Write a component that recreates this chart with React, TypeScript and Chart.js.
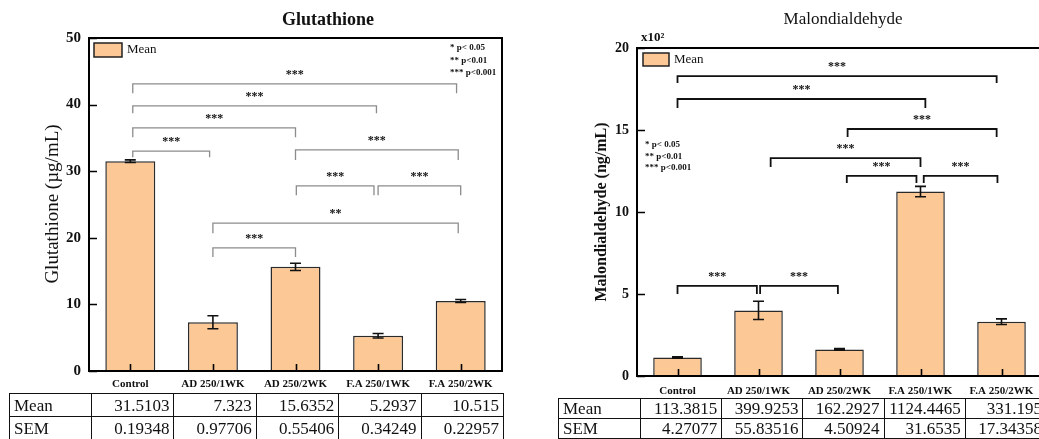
import React, { useEffect, useRef } from "react";
import { Chart, registerables } from "chart.js";
Chart.register(...registerables);

const FONT = "'Times New Roman', 'Liberation Serif', 'DejaVu Serif', serif";
const BAR_FILL = "#FCC895";

const categories = ["Control", "AD 250/1WK", "AD 250/2WK", "F.A 250/1WK", "F.A 250/2WK"];

// Glutathione
const gshMean = [31.5103, 7.323, 15.6352, 5.2937, 10.515];
const gshSem = [0.19348, 0.97706, 0.55406, 0.34249, 0.22957];
const gshTicks = [0, 10, 20, 30, 40, 50];
const gshTickLabels = ["0", "10", "20", "30", "40", "50"];
// [from index, to index, top value, left end value, right end value, label]
const gshBrackets: [number, number, number, number, number, string][] = [
  [0.03, 3.95, 43.1, 41.7, 41.7, "***"],
  [0.03, 2.98, 39.8, 38.7, 38.7, "***"],
  [0.03, 2.0, 36.5, 35.1, 35.1, "***"],
  [0.03, 0.96, 33.0, 32.1, 32.1, "***"],
  [2.0, 3.97, 33.2, 31.7, 31.7, "***"],
  [2.01, 2.95, 27.8, 26.4, 26.4, "***"],
  [3.0, 4.0, 27.8, 26.4, 26.4, "***"],
  [1.0, 3.97, 22.2, 20.7, 20.7, "**"],
  [1.0, 2.0, 18.5, 17.1, 17.1, "***"],
];

// Malondialdehyde
const mdaMean = [113.3815, 399.9253, 162.2927, 1124.4465, 331.195];
const mdaSem = [4.27077, 55.83516, 4.50924, 31.6535, 17.34358];
const mdaTicks = [0, 500, 1000, 1500, 2000];
const mdaTickLabels = ["0", "5", "10", "15", "20"];
const mdaBrackets: [number, number, number, number, number, string][] = [
  [0.0, 3.94, 1829, 1787, 1787, "***"],
  [0.0, 3.06, 1689, 1634, 1634, "***"],
  [2.1, 3.94, 1506, 1457, 1457, "***"],
  [1.15, 3.0, 1329, 1274, 1274, "***"],
  [2.09, 2.95, 1220, 1177, 1177, "***"],
  [3.04, 3.95, 1220, 1177, 1177, "***"],
  [0.0, 0.98, 549, 500, 500, "***"],
  [1.02, 1.98, 549, 500, 500, "***"],
];

const pLegend = ["* p< 0.05", "** p<0.01", "*** p<0.001"];
const tableRows = ["Mean", "SEM"];

type Cfg = {
  title: string;
  titleFont: string;
  titleX: number;
  titleY: number;
  yTitle: string;
  yTitleFont: string;
  yTitleX: number;
  yTitleY: number;
  means: number[];
  sems: number[];
  brackets: [number, number, number, number, number, string][];
  bracketColor: string;
  bracketWidth: number;
  legendBox: [number, number, number, number];
  legendText: [number, number];
  pX: number;
  pY: number[];
  extra?: (ctx: CanvasRenderingContext2D) => void;
};

function decor(cfg: Cfg) {
  return {
    id: "decor",
    afterDraw(chart: any) {
      const { ctx, chartArea: a, scales } = chart;
      const xs = scales.x;
      const ys = scales.y;
      ctx.save();
      // frame
      ctx.strokeStyle = "#000";
      ctx.lineWidth = 2;
      ctx.strokeRect(a.left, a.top, a.right - a.left, a.bottom - a.top);
      // inward ticks
      ctx.lineWidth = 1.6;
      ctx.beginPath();
      ys.ticks.forEach((_t: any, i: number) => {
        const py = Math.round(ys.getPixelForTick(i)) + 0.5;
        ctx.moveTo(a.left, py);
        ctx.lineTo(a.left + 8, py);
      });
      cfg.means.forEach((_m, i) => {
        const px = Math.round(xs.getPixelForValue(i)) + 0.5;
        ctx.moveTo(px, a.bottom);
        ctx.lineTo(px, a.bottom - 7);
      });
      ctx.stroke();
      // error bars
      ctx.lineWidth = 1.6;
      ctx.strokeStyle = "#111";
      cfg.means.forEach((m, i) => {
        const px = xs.getPixelForValue(i);
        const yt = ys.getPixelForValue(m + cfg.sems[i]);
        const yb = ys.getPixelForValue(m - cfg.sems[i]);
        ctx.beginPath();
        ctx.moveTo(px, yt);
        ctx.lineTo(px, yb);
        ctx.moveTo(px - 5.5, yt);
        ctx.lineTo(px + 5.5, yt);
        ctx.moveTo(px - 5.5, yb);
        ctx.lineTo(px + 5.5, yb);
        ctx.stroke();
      });
      // brackets
      ctx.strokeStyle = cfg.bracketColor;
      ctx.lineWidth = cfg.bracketWidth;
      ctx.fillStyle = "#111";
      ctx.font = `bold 12px ${FONT}`;
      ctx.textAlign = "center";
      ctx.textBaseline = "alphabetic";
      cfg.brackets.forEach(([f, t, top, le, re, label]) => {
        const x1 = xs.getPixelForValue(f);
        const x2 = xs.getPixelForValue(t);
        const yTop = ys.getPixelForValue(top);
        ctx.beginPath();
        ctx.moveTo(x1, ys.getPixelForValue(le));
        ctx.lineTo(x1, yTop);
        ctx.lineTo(x2, yTop);
        ctx.lineTo(x2, ys.getPixelForValue(re));
        ctx.stroke();
        ctx.fillText(label, (x1 + x2) / 2, yTop - 6);
      });
      // legend
      const [lx, ly, lw, lh] = cfg.legendBox;
      ctx.fillStyle = BAR_FILL;
      ctx.fillRect(lx, ly, lw, lh);
      ctx.strokeStyle = "#222";
      ctx.lineWidth = 1.5;
      ctx.strokeRect(lx, ly, lw, lh);
      ctx.fillStyle = "#111";
      ctx.font = `13px ${FONT}`;
      ctx.textAlign = "left";
      ctx.textBaseline = "middle";
      ctx.fillText("Mean", cfg.legendText[0], cfg.legendText[1]);
      // p legend
      ctx.font = `bold 9px ${FONT}`;
      pLegend.forEach((s, i) => ctx.fillText(s, cfg.pX, cfg.pY[i]));
      // title
      ctx.font = cfg.titleFont;
      ctx.textAlign = "center";
      ctx.fillText(cfg.title, cfg.titleX, cfg.titleY);
      // y title
      ctx.save();
      ctx.translate(cfg.yTitleX, cfg.yTitleY);
      ctx.rotate(-Math.PI / 2);
      ctx.font = cfg.yTitleFont;
      ctx.fillText(cfg.yTitle, 0, 0);
      ctx.restore();
      if (cfg.extra) cfg.extra(ctx);
      ctx.restore();
    },
  };
}

function BarChart(props: {
  width: number;
  height: number;
  means: number[];
  max: number;
  ticks: number[];
  tickLabels: string[];
  tickSize: number;
  yWidth: number;
  xHeight: number;
  padTop: number;
  padRight: number;
  xPad: number;
  barPct: number;
  cfg: Cfg;
}) {
  const ref = useRef<HTMLCanvasElement>(null);
  useEffect(() => {
    if (!ref.current) return;
    const p = props;
    const chart = new Chart(ref.current, {
      type: "bar",
      data: {
        labels: categories,
        datasets: [
          {
            label: "Mean",
            data: p.means,
            backgroundColor: BAR_FILL,
            borderColor: "#2a2a2a",
            borderWidth: 1.5,
            categoryPercentage: 1,
            barPercentage: p.barPct,
          },
        ],
      },
      options: {
        responsive: false,
        animation: false,
        devicePixelRatio: 1,
        layout: { padding: { top: p.padTop, right: p.padRight, left: 0, bottom: 0 } },
        plugins: { legend: { display: false }, tooltip: { enabled: false }, title: { display: false } },
        scales: {
          x: {
            grid: { display: false, drawTicks: false },
            border: { display: false },
            ticks: {
              color: "#111",
              font: { family: FONT, size: 11, weight: "bold" },
              maxRotation: 0,
              minRotation: 0,
              autoSkip: false,
              padding: p.xPad,
            },
            afterFit: (s: any) => {
              s.height = p.xHeight;
            },
          },
          y: {
            min: 0,
            max: p.max,
            grid: { display: false, drawTicks: false },
            border: { display: false },
            afterBuildTicks: (s: any) => {
              s.ticks = p.ticks.map((v) => ({ value: v }));
            },
            ticks: {
              color: "#111",
              font: { family: FONT, size: p.tickSize, weight: "bold" },
              padding: 8,
              callback: (v: any) => p.tickLabels[p.ticks.indexOf(Number(v))] ?? "",
            },
            afterFit: (s: any) => {
              s.width = p.yWidth;
            },
          },
        },
      },
      plugins: [decor(p.cfg)],
    } as any);
    return () => chart.destroy();
  }, []);
  return <canvas ref={ref} width={props.width} height={props.height} style={{ width: props.width, height: props.height, display: "block" }} />;
}

function DataTable(props: { left: number; top: number; firstW: number; colW: number; rowH: number; means: number[]; sems: number[] }) {
  const rows = [props.means, props.sems];
  const cell: React.CSSProperties = {
    border: "1.5px solid #111",
    padding: "0 4px",
    height: props.rowH,
    lineHeight: `${props.rowH - 2}px`,
    textAlign: "right",
    whiteSpace: "nowrap",
    overflow: "hidden",
    boxSizing: "border-box",
  };
  return (
    <table
      style={{
        position: "absolute",
        left: props.left,
        top: props.top,
        borderCollapse: "collapse",
        tableLayout: "fixed",
        width: props.firstW + props.colW * 5,
        fontFamily: FONT,
        fontSize: 17,
        color: "#111",
      }}
    >
      <colgroup>
        <col style={{ width: props.firstW }} />
        {categories.map((c) => (
          <col key={c} style={{ width: props.colW }} />
        ))}
      </colgroup>
      <tbody>
        {rows.map((r, ri) => (
          <tr key={ri}>
            <td style={{ ...cell, textAlign: "left" }}>{tableRows[ri]}</td>
            {r.map((v, i) => (
              <td key={i} style={cell}>
                {String(v)}
              </td>
            ))}
          </tr>
        ))}
      </tbody>
    </table>
  );
}

export default function App() {
  const gshCfg: Cfg = {
    title: "Glutathione",
    titleFont: `bold 18px ${FONT}`,
    titleX: 328,
    titleY: 20,
    yTitle: "Glutathione (µg/mL)",
    yTitleFont: `19px ${FONT}`,
    yTitleX: 53,
    yTitleY: 204,
    means: gshMean,
    sems: gshSem,
    brackets: gshBrackets,
    bracketColor: "#8c8c8c",
    bracketWidth: 1.3,
    legendBox: [94, 43, 28, 14],
    legendText: [127, 50],
    pX: 450,
    pY: [48, 61, 73],
  };
  const mdaCfg: Cfg = {
    title: "Malondialdehyde",
    titleFont: `17px ${FONT}`,
    titleX: 323,
    titleY: 20,
    yTitle: "Malondialdehyde (ng/mL)",
    yTitleFont: `bold 16px ${FONT}`,
    yTitleX: 82,
    yTitleY: 212,
    means: mdaMean,
    sems: mdaSem,
    brackets: mdaBrackets,
    bracketColor: "#111",
    bracketWidth: 1.8,
    legendBox: [123, 53, 26, 13],
    legendText: [154, 60],
    pX: 125,
    pY: [145, 157, 168],
    extra: (ctx) => {
      ctx.font = `bold 13px ${FONT}`;
      ctx.textAlign = "left";
      ctx.textBaseline = "middle";
      ctx.fillText("x10²", 121, 38);
    },
  };
  return (
    <div style={{ position: "absolute", left: 0, top: 0, width: 1039, height: 439, overflow: "hidden", background: "#fff" }}>
      <div style={{ position: "absolute", left: 0, top: 0 }}>
        <BarChart
          width={520}
          height={395}
          means={gshMean}
          max={50}
          ticks={gshTicks}
          tickLabels={gshTickLabels}
          tickSize={15}
          yWidth={89}
          xHeight={24}
          padTop={38}
          padRight={18}
          xPad={7}
          barPct={0.605}
          cfg={gshCfg}
        />
      </div>
      <div style={{ position: "absolute", left: 520, top: 0 }}>
        <BarChart
          width={540}
          height={400}
          means={mdaMean}
          max={2000}
          ticks={mdaTicks}
          tickLabels={mdaTickLabels}
          tickSize={14}
          yWidth={117}
          xHeight={24}
          padTop={48}
          padRight={18}
          xPad={9}
          barPct={0.6}
          cfg={mdaCfg}
        />
      </div>
      <DataTable left={9} top={393} firstW={82} colW={82.4} rowH={23} means={gshMean} sems={gshSem} />
      <DataTable left={558} top={398} firstW={82} colW={81.2} rowH={20} means={mdaMean} sems={mdaSem} />
    </div>
  );
}
